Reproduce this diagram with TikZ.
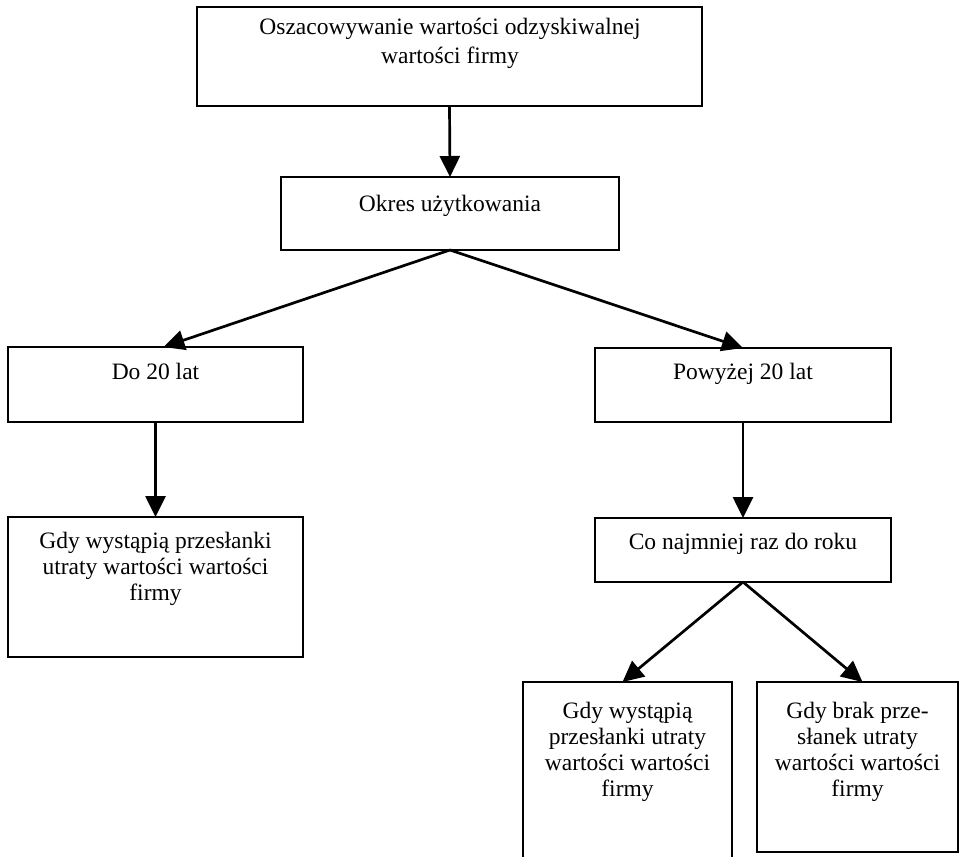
\documentclass[tikz,border=0pt]{standalone}
\usepackage{fontspec}
\setmainfont{Liberation Serif}
\usetikzlibrary{arrows.meta}
\tikzset{
  box/.style={draw, line width=2.7pt, inner sep=0pt, outer sep=0pt, anchor=north west},
  txt/.style={align=center, anchor=north, inner sep=0pt, font=\fontsize{23.5}{26}\selectfont},
  arr/.style={line width=2.7pt, -{Triangle[length=21pt,width=20pt]}}
}
\begin{document}
\begin{tikzpicture}[x=1pt,y=-1pt]
\useasboundingbox (0,0) rectangle (960,856);
\clip (0,0) rectangle (960,856);
\fill[white] (0,0) rectangle (960,856);
% boxes
\node[box, minimum width=505pt, minimum height=99pt] (top) at (197,7) {};
\node[box, minimum width=338pt, minimum height=73pt] (okres) at (281,177) {};
\node[box, minimum width=295pt, minimum height=75pt] (do20) at (8,347) {};
\node[box, minimum width=296pt, minimum height=74pt] (pow) at (595,348) {};
\node[box, minimum width=295pt, minimum height=140pt] (gdyA) at (8,517) {};
\node[box, minimum width=296pt, minimum height=64pt] (co) at (595,518) {};
\node[box, minimum width=209pt, minimum height=200pt] (gdyB) at (523,682) {};
\node[box, minimum width=201pt, minimum height=170pt] (brak) at (757,682) {};
% texts
\node[txt, font=\fontsize{23.5}{29}\selectfont] (ttop) at (450,18) {Oszacowywanie wartości odzyskiwalnej\\wartości firmy};
\node[txt] (tokres) at (450,195) {Okres użytkowania};
\node[txt] (tdo20) at (155.5,363) {Do 20 lat};
\node[txt] (tpow) at (743,363) {Powyżej 20 lat};
\node[txt] (tgdyA) at (155.5,532) {Gdy wystąpią przesłanki\\utraty wartości wartości\\firmy};
\node[txt] (tco) at (743,533) {Co najmniej raz do roku};
\node[txt] (tgdyB) at (627.5,702) {Gdy wystąpią\\przesłanki utraty\\wartości wartości\\firmy};
\node[txt] (tbrak) at (857.5,702) {Gdy brak prze-\\słanek utraty\\wartości wartości\\firmy};
% arrows
\draw[arr] (top.south) -- (okres.north);
\draw[arr] (okres.south) -- ([xshift=8pt]do20.north);
\draw[arr] (okres.south) -- (pow.north);
\draw[arr] (do20.south) -- (gdyA.north);
\draw[arr] (pow.south) -- (co.north);
\draw[arr] (co.south) -- ([xshift=-5pt]gdyB.north);
\draw[arr] (co.south) -- ([xshift=5pt]brak.north);
\end{tikzpicture}
\end{document}
